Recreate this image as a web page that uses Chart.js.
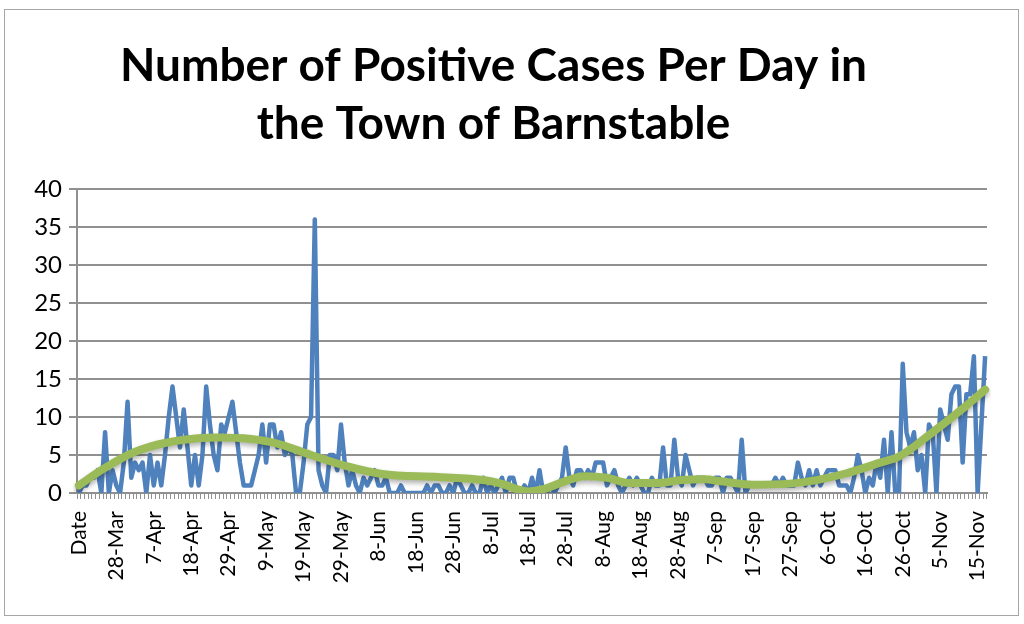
<!DOCTYPE html>
<html>
<head>
<meta charset="utf-8">
<script src="https://cdn.jsdelivr.net/npm/chart.js@4/dist/chart.umd.min.js"></script>
<style>
  html, body { margin: 0; padding: 0; background: #fff; }
  #wrap { position: relative; width: 1024px; height: 624px; }
  #frame { position: absolute; left: 4px; top: 9px; width: 1015px; height: 607px; border: 1px solid #a6a6a6; box-sizing: border-box; pointer-events: none; }
</style>
</head>
<body>
<div id="wrap">
  <canvas id="cases" width="1024" height="624"></canvas>
  <div id="frame"></div>
</div>
<script>
// tick labels shown on the x axis, one every 10 categories
const tickLabels = ['Date', '28-Mar', '7-Apr', '18-Apr', '29-Apr', '9-May', '19-May', '29-May',
    '8-Jun', '18-Jun', '28-Jun', '8-Jul', '18-Jul', '28-Jul', '8-Aug', '18-Aug', '28-Aug',
    '7-Sep', '17-Sep', '27-Sep', '6-Oct', '16-Oct', '26-Oct', '5-Nov', '15-Nov'];
const labelEvery = 10;

// positive cases per day
const cases = [
    0, 1, 1, 2, 2, 3, 0, 8, 0, 3,
    1, 0, 4, 12, 2, 4, 3, 4, 0, 5,
    1, 4, 1, 5, 10, 14, 10, 6, 11, 6,
    1, 5, 1, 5, 14, 9, 5, 3, 9, 8,
    10, 12, 8, 4, 1, 1, 1, 3, 5, 9,
    4, 9, 9, 6, 8, 5, 6, 5, 0, 0,
    4, 9, 10, 36, 3, 1, 0, 5, 5, 3,
    9, 4, 1, 3, 1, 0, 2, 1, 2, 3,
    1, 1, 2, 0, 0, 0, 1, 0, 0, 0,
    0, 0, 0, 1, 0, 1, 1, 0, 0, 1,
    0, 2, 1, 0, 0, 1, 0, 0, 2, 0,
    1, 0, 1, 2, 0, 2, 2, 0, 0, 1,
    0, 2, 0, 3, 0, 0, 1, 0, 1, 2,
    6, 2, 1, 3, 3, 2, 3, 2, 4, 4,
    4, 1, 2, 3, 1, 0, 1, 2, 1, 2,
    1, 0, 0, 2, 1, 1, 6, 1, 1, 7,
    2, 1, 5, 3, 1, 2, 2, 2, 1, 1,
    2, 2, 0, 2, 2, 1, 0, 7, 0, 1,
    1, 1, 1, 1, 1, 1, 2, 1, 2, 1,
    1, 1, 4, 2, 1, 3, 1, 3, 1, 2,
    3, 3, 3, 1, 1, 1, 0, 2, 5, 3,
    0, 2, 1, 4, 2, 7, 0, 8, 0, 0,
    17, 8, 6, 8, 3, 5, 0, 9, 8, 0,
    11, 9, 7, 13, 14, 14, 4, 13, 13, 18,
    0, 9, 18
];

// trendline, read at a few category positions
const trendAt = [0, 6, 14, 19, 28, 37, 46, 53, 62, 71, 81, 96, 108, 113, 117, 120, 124, 129, 135, 141,
    147, 154, 161, 167, 172, 180, 189, 197, 205, 214, 219, 228, 237, 242];
const trendVals = [1.0, 3.0, 5.2, 6.1, 7.0, 7.3, 7.1, 6.5, 5.0, 3.6, 2.5, 2.1, 1.7, 1.2, 0.5, 0.2, 0.5, 1.4, 2.2, 2.0,
    1.3, 1.3, 1.7, 1.8, 1.5, 1.1, 1.2, 1.7, 2.6, 4.0, 4.8, 8.0, 11.5, 13.6];

const yTicks = { min: 0, max: 40, step: 5 };

const categories = cases.map((v, i) => (i % labelEvery === 0 ? tickLabels[i / labelEvery] || '' : ''));
const trend = cases.map(() => null);
trendAt.forEach((idx, k) => { trend[idx] = trendVals[k]; });

function fitSize(text, font, width) {
    const c = document.createElement('canvas').getContext('2d');
    c.font = 'bold 100px ' + font;
    return Math.round(100 * width / c.measureText(text).width);
}
const titleLines = ['Number of Positive Cases Per Day in', 'the Town of Barnstable'];
const titleSize = fitSize(titleLines[0], 'Lato', 750);

const trendShadow = {
    id: 'trendShadow',
    beforeDatasetDraw(chart, args) {
        if (args.index !== 1) return;
        const c = chart.ctx;
        c.save();
        c.shadowColor = 'rgba(0,0,0,0.3)';
        c.shadowBlur = 5;
        c.shadowOffsetY = 3;
    },
    afterDatasetDraw(chart, args) {
        if (args.index === 1) chart.ctx.restore();
    }
};

const gridGray = '#909090';

new Chart(document.getElementById('cases'), {
    type: 'line',
    data: {
        labels: categories,
        datasets: [{
            data: cases,
            borderColor: '#4f81bd',
            borderWidth: 4.5,
            borderJoinStyle: 'round',
            pointRadius: 0,
            tension: 0,
            order: 2
        }, {
            data: trend,
            borderColor: '#9bbb59',
            borderWidth: 8,
            borderCapStyle: 'round',
            pointRadius: 0,
            spanGaps: true,
            cubicInterpolationMode: 'monotone',
            order: 1
        }]
    },
    options: {
        responsive: false,
        animation: false,
        devicePixelRatio: 1,
        layout: { padding: { left: 0, right: 37, top: 0, bottom: 0 } },
        plugins: {
            legend: { display: false },
            tooltip: { enabled: false },
            title: {
                display: true,
                text: titleLines,
                color: '#000',
                font: { family: 'Lato', weight: 'bold', size: titleSize, lineHeight: 58 / titleSize },
                padding: { top: 37, bottom: 36 }
            }
        },
        scales: {
            x: {
                offset: true,
                afterFit: (scale) => { scale.height = 131; },
                grid: { drawOnChartArea: false, offset: true, color: gridGray, tickLength: 6, lineWidth: 1 },
                border: { color: gridGray, width: 2 },
                ticks: {
                    autoSkip: false,
                    minRotation: 90,
                    maxRotation: 90,
                    padding: 12,
                    color: '#000',
                    font: { family: 'Lato', size: 21 }
                }
            },
            y: {
                min: yTicks.min,
                max: yTicks.max,
                afterFit: (scale) => { scale.width = 77; },
                grid: { color: gridGray, lineWidth: 2, tickLength: 8 },
                border: { color: gridGray, width: 2 },
                ticks: {
                    stepSize: yTicks.step,
                    padding: 7,
                    color: '#000',
                    font: { family: 'Lato', size: 24 }
                }
            }
        }
    },
    plugins: [trendShadow]
});
</script>
</body>
</html>
